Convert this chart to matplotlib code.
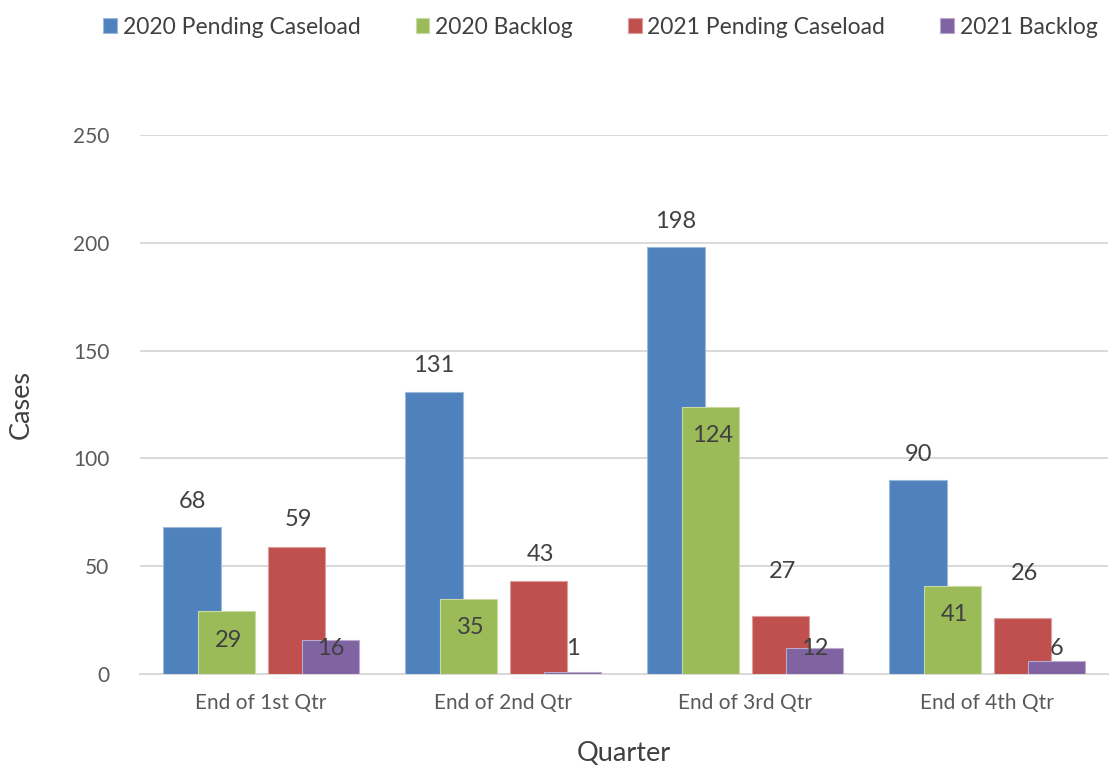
import matplotlib
matplotlib.use('Agg')
import matplotlib.pyplot as plt
import matplotlib.colors as mcolors
import numpy as np

plt.rcParams['font.family'] = ['Lato', 'DejaVu Sans']

# Datos
trimestres = ['End of 1st Qtr', 'End of 2nd Qtr', 'End of 3rd Qtr', 'End of 4th Qtr']
pendientes_2020 = [68, 131, 198, 90]
atraso_2020 = [29, 35, 124, 41]
pendientes_2021 = [59, 43, 27, 26]
atraso_2021 = [16, 1, 12, 6]

series = [
    ('2020 Pending Caseload', pendientes_2020, '#4F81BD'),
    ('2020 Backlog', atraso_2020, '#9BBB59'),
    ('2021 Pending Caseload', pendientes_2021, '#C0504D'),
    ('2021 Backlog', atraso_2021, '#8064A2'),
]
desplazamientos = [-0.285, -0.143, 0.145, 0.287]
ancho = 0.236


def aclarar(color, f=0.45):
    r, g, b = mcolors.to_rgb(color)
    return (r + (1 - r) * f, g + (1 - g) * f, b + (1 - b) * f)


fig = plt.figure(figsize=(11.12, 7.74), dpi=100)
ax = fig.add_axes([140 / 1112, 1 - 674 / 774, 968 / 1112, (674 - 135) / 774])

x = np.arange(len(trimestres))
for (nombre, valores, color), dx in zip(series, desplazamientos):
    ax.bar(x + dx, valores, ancho, color=color, label=nombre,
           edgecolor=aclarar(color), linewidth=0.8, zorder=3)

# Etiquetas de datos
gris = '#404040'
fs = 17
for i in range(len(trimestres)):
    ax.text(x[i] + desplazamientos[0], pendientes_2020[i] + 12, str(pendientes_2020[i]),
            ha='center', va='center', fontsize=fs, color=gris, zorder=4)
    ax.text(x[i] + desplazamientos[1] + 0.01, atraso_2020[i] - 13.5, str(atraso_2020[i]),
            ha='center', va='center', fontsize=fs, color=gris, zorder=4)
    extra = 12.5 if pendientes_2021[i] > 40 else 20.5
    ax.text(x[i] + desplazamientos[2] + 0.01, pendientes_2021[i] + extra, str(pendientes_2021[i]),
            ha='center', va='center', fontsize=fs, color=gris, zorder=4)
    ax.text(x[i] + desplazamientos[3], 12, str(atraso_2021[i]),
            ha='center', va='center', fontsize=fs, color=gris, zorder=4)

ax.set_xlim(-0.5, 3.5)
ax.set_ylim(0, 250)
ax.set_yticks([0, 50, 100, 150, 200, 250])
ax.set_xticks(x)
ax.set_xticklabels(trimestres)
ax.tick_params(axis='both', length=0, labelsize=15, colors='#595959')
ax.tick_params(axis='x', pad=14)
ax.tick_params(axis='y', pad=22)
ax.grid(axis='y', color='#D9D9D9', linewidth=1.4, zorder=0)
for lado in ['top', 'right', 'left']:
    ax.spines[lado].set_visible(False)
ax.spines['bottom'].set_color('#D9D9D9')
ax.spines['bottom'].set_linewidth(1.4)

ax.set_xlabel('Quarter', fontsize=19.5, color=gris, labelpad=20)
ax.set_ylabel('Cases', fontsize=19.5, color=gris, labelpad=28)

fig.legend(loc='upper center', bbox_to_anchor=(0.540, 1.005), ncol=4, frameon=False,
           fontsize=16.5, labelcolor=gris, handlelength=0.6, handleheight=0.6,
           handletextpad=0.25, columnspacing=2.4)

plt.savefig('out.png', dpi=100)
